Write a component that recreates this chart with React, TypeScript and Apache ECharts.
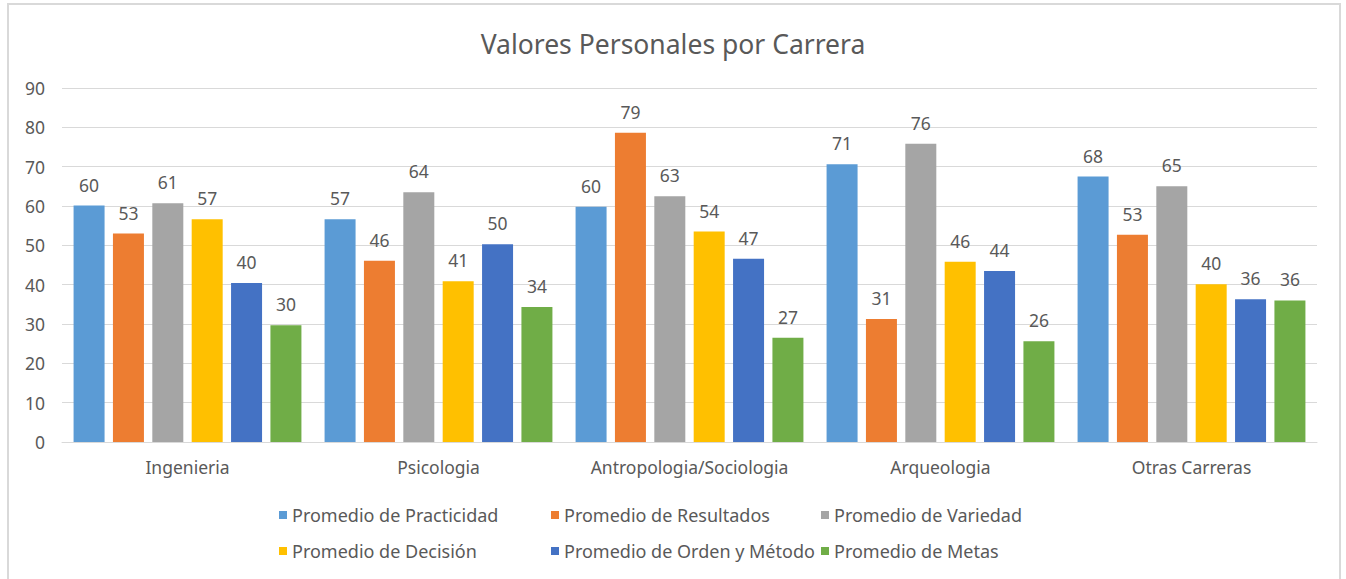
import React, { useEffect, useRef } from "react";
import * as echarts from "echarts";

const categories = ["Ingenieria", "Psicologia", "Antropologia/Sociologia", "Arqueologia", "Otras Carreras"];
const seriesNames = [
  "Promedio de Practicidad",
  "Promedio de Resultados",
  "Promedio de Variedad",
  "Promedio de Decisión",
  "Promedio de Orden y Método",
  "Promedio de Metas",
];
const practicidad = [60.1, 56.6, 59.8, 70.6, 67.5];
const resultados = [53.0, 46.1, 78.6, 31.3, 52.7];
const variedad = [60.7, 63.5, 62.5, 75.8, 65.0];
const decision = [56.6, 40.9, 53.5, 45.8, 40.1];
const ordenMetodo = [40.4, 50.3, 46.6, 43.5, 36.3];
const metas = [29.7, 34.3, 26.5, 25.6, 36.0];
const yTicks = { min: 0, max: 90, interval: 10 };

const seriesData = [practicidad, resultados, variedad, decision, ordenMetodo, metas];
const colors = ["#5B9BD5", "#ED7D31", "#A5A5A5", "#FFC000", "#4472C4", "#70AD47"];

const FONT = "'Noto Sans', sans-serif";
const TXT = "#595959";

export default function App() {
  const ref = useRef<HTMLDivElement>(null);
  useEffect(() => {
    if (!ref.current) return;
    const chart = echarts.init(ref.current, undefined, { renderer: "svg" });
    const legendPos = [
      { left: 279, top: 505 },
      { left: 551, top: 505 },
      { left: 821, top: 505 },
      { left: 279, top: 541 },
      { left: 551, top: 541 },
      { left: 821, top: 541 },
    ];
    chart.setOption({
      animation: false,
      textStyle: { fontFamily: FONT },
      title: {
        text: "Valores Personales por Carrera",
        left: "center",
        top: 25,
        textStyle: { fontFamily: FONT, fontSize: 26.5, fontWeight: "normal", color: TXT },
      },
      graphic: [
        {
          type: "rect",
          shape: { x: 8, y: 4, width: 1332, height: 620 },
          style: { fill: "none", stroke: "#d9d9d9", lineWidth: 2 },
          silent: true,
        },
      ],
      legend: seriesNames.map((n, i) => ({
        data: [n],
        left: legendPos[i].left,
        top: legendPos[i].top,
        padding: 0,
        icon: "rect",
        itemWidth: 8,
        itemHeight: 8,
        selectedMode: false,
        textStyle: { fontFamily: FONT, fontSize: 18, color: TXT, lineHeight: 20 },
      })),
      grid: { left: 62, right: 29, top: 88, bottom: 137, containLabel: false },
      xAxis: {
        type: "category",
        data: categories,
        axisLine: { lineStyle: { color: "#d9d9d9", width: 1 } },
        axisTick: { show: false },
        axisLabel: { color: TXT, fontSize: 17.5, fontFamily: FONT, margin: 16, interval: 0 },
      },
      yAxis: {
        type: "value",
        min: yTicks.min,
        max: yTicks.max,
        interval: yTicks.interval,
        axisLine: { show: false },
        axisTick: { show: false },
        axisLabel: { color: TXT, fontSize: 17.5, fontFamily: FONT, margin: 17 },
        splitLine: { lineStyle: { color: "#d9d9d9", width: 1 } },
      },
      series: seriesNames.map((n, i) => ({
        name: n,
        type: "bar",
        data: seriesData[i],
        barWidth: 31,
        barGap: "27%",
        itemStyle: { color: colors[i] },
        label: {
          show: true,
          position: "top",
          distance: 12,
          color: TXT,
          fontSize: 17.5,
          fontFamily: FONT,
          formatter: (p: any) => String(Math.round(p.value)),
        },
      })),
    });
    return () => chart.dispose();
  }, []);
  return (
    <div
      ref={ref}
      style={{ position: "fixed", left: 0, top: 0, width: 1346, height: 579, background: "#fff" }}
    />
  );
}
